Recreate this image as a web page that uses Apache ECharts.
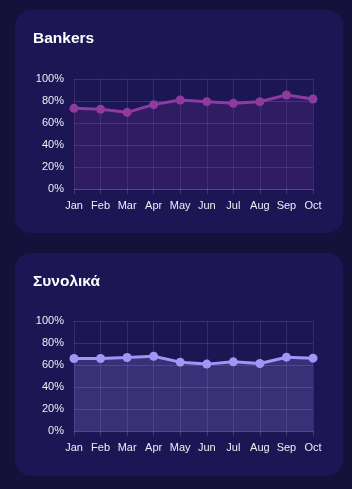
<!DOCTYPE html>
<html>
<head>
<meta charset="utf-8">
<title>Bankers / Συνολικά</title>
<script src="https://cdn.jsdelivr.net/npm/echarts@6/dist/echarts.min.js"></script>
<style>
	html, body { margin: 0; padding: 0; }
	body { width: 352px; height: 489px; background: #15113a; position: relative; overflow: hidden;
		font-family: "Liberation Sans", Arial, sans-serif; }
	.card { position: absolute; left: 15px; width: 328px; height: 223px; background: #1c1655;
		border-radius: 16px; }
	.card h2 { position: absolute; left: 18px; top: 19px; margin: 0; color: #fff;
		font-size: 15.5px; font-weight: bold; }
	.chart { position: absolute; left: 0; top: 0; width: 328px; height: 223px; }
</style>
</head>
<body>
<div class="card" style="top:10px"><div class="chart" id="c1"></div><h2>Bankers</h2></div>
<div class="card" style="top:253px"><div class="chart" id="c2"></div><h2>Συνολικά</h2></div>
<script>
// months on the x axis
const months = ['Jan', 'Feb', 'Mar', 'Apr', 'May', 'Jun', 'Jul', 'Aug', 'Sep', 'Oct'];
// percent values
const bankers = [73.3, 72.4, 69.7, 76.7, 80.9, 79.4, 77.9, 79.4, 85.5, 81.8];
const synolika = [65.9, 65.9, 66.8, 68.0, 62.6, 60.8, 62.9, 61.4, 67.1, 66.2];

function makeOpt(data, color, areaOpacity, top) {
	return {
		animation: false,
		grid: { left: 59, top: top, width: 239, height: 110 },
		xAxis: {
			type: 'category', data: months, boundaryGap: false,
			axisLine: { lineStyle: { color: 'rgba(255,255,255,0.12)' } },
			axisTick: { show: true, interval: 0, lineStyle: { color: 'rgba(255,255,255,0.15)' } },
			splitLine: { show: true, interval: 0, lineStyle: { color: 'rgba(255,255,255,0.1)' } },
			axisLabel: { color: '#eeeef5', fontSize: 11, margin: 11, interval: 0, fontFamily: 'Liberation Sans' }
		},
		yAxis: {
			type: 'value', min: 0, max: 100, interval: 20,
			axisLine: { show: false },
			axisTick: { show: false },
			splitLine: { lineStyle: { color: 'rgba(255,255,255,0.12)' } },
			axisLabel: { color: '#eeeef5', fontSize: 11, margin: 10, formatter: '{value}%', fontFamily: 'Liberation Sans' }
		},
		series: [{
			type: 'line', data: data,
			symbol: 'circle', symbolSize: 9,
			lineStyle: { color: color, width: 3 },
			itemStyle: { color: color },
			areaStyle: { color: color, opacity: areaOpacity }
		}]
	};
}

echarts.init(document.getElementById('c1')).setOption(makeOpt(bankers, '#8e3a9e', 0.18, 69));
echarts.init(document.getElementById('c2')).setOption(makeOpt(synolika, '#a593f5', 0.22, 68));
</script>
</body>
</html>
